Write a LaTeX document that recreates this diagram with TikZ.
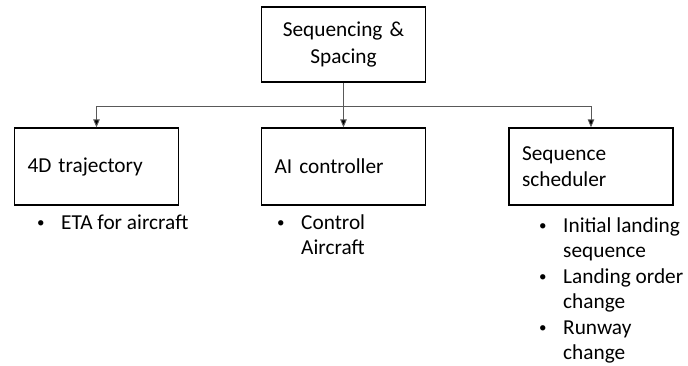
\documentclass[tikz,border=0pt]{standalone}
\usepackage{fontspec}
\setmainfont{Carlito}
\usetikzlibrary{arrows.meta}
\newcommand\itembul{\makebox[24pt][l]{\raisebox{1.2pt}{\fontsize{15}{15}\selectfont\textbullet}}}
\begin{document}
\begin{tikzpicture}[x=1pt,y=1pt,
  font=\fontsize{21.3}{25.5}\selectfont,
  box/.style={draw=black, line width=1.3pt, minimum width=164pt, minimum height=77pt,
    inner xsep=13pt, text width=138pt},
  link/.style={draw=black!65, line width=0.9pt},
  tip/.style={-{Triangle[length=8pt,width=6.5pt,fill=black]}},
  list/.style={anchor=base west, inner sep=0pt, align=left}]
\useasboundingbox (0,0) rectangle (688,-365);

% root of the tree
\node[box, minimum height=75pt, align=center] (root) at (343.5,-44.5) {Sequencing \&\\[1pt]Spacing};

% three modules
\node[box, align=left] (traj)  at (96.5,-166.5) {\raisebox{-3.5pt}{4D trajectory}};
\node[box, align=left] (ai)    at (343.5,-166.5) {\raisebox{-3.5pt}{AI controller}};
\node[box, align=left] (sched) at (591,-166.5)  {Sequence\\scheduler};

% branching connectors
\coordinate (split) at (root.south |- 0,-106);
\draw[link] (root.south) -- (split);
\draw[link, tip] (split) -- (ai.north);
\draw[link, tip] (split) -| (traj.north);
\draw[link, tip] (split) -| (sched.north);

% bullet notes under each module
\node[list] (trajnote) at (37,-229) {\begin{tabular}[t]{@{}l@{}l@{}}\itembul & ETA for aircraft\end{tabular}};
\node[list] (ainote) at (277,-229) {\begin{tabular}[t]{@{}l@{}l@{}}\itembul & Control\\ & Aircraft\end{tabular}};
\node[list] (schednote) at (539,-232) {\begin{tabular}[t]{@{}l@{}l@{}}\itembul & Initial landing\\ & sequence\\ \itembul & Landing order\\ & change\\ \itembul & Runway\\ & change\end{tabular}};
\end{tikzpicture}
\end{document}
